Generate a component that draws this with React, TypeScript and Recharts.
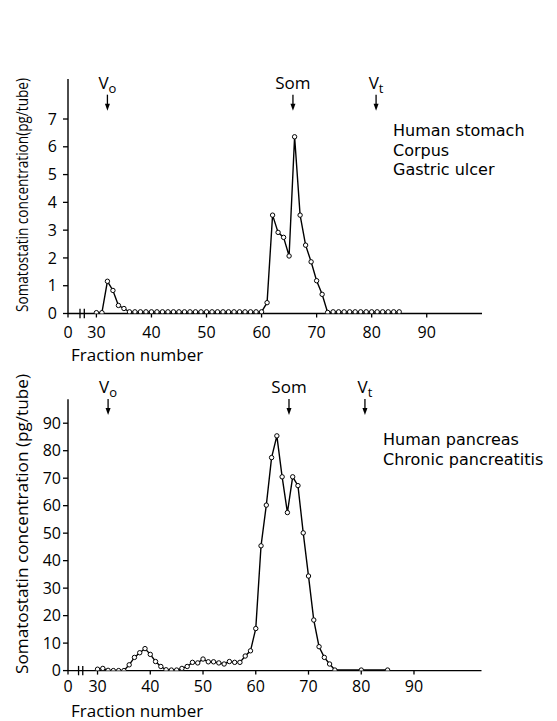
import { LineChart, Line, XAxis, YAxis, ReferenceLine, ReferenceDot } from "recharts";

const FONT = "'Open Sans', 'DejaVu Sans', sans-serif";
const NOTE_FONT = "'DejaVu Sans', sans-serif";

// fraction numbers shown under both x axes (0 sits before the axis break)
const tickFractions = [0, 30, 40, 50, 60, 70, 80, 90];

// Human stomach, corpus, gastric ulcer (pg/tube)
const stomachFractions = [
  30, 31, 32, 33, 34, 35, 36, 37, 38, 39, 40, 41, 42, 43, 44, 45, 46, 47, 48, 49,
  50, 51, 52, 53, 54, 55, 56, 57, 58, 59, 60, 61, 62, 63, 64, 65, 66, 67, 68, 69,
  70, 71, 72, 73, 74, 75, 76, 77, 78, 79, 80, 81, 82, 83, 84, 85,
];
const stomachValues = [
  0.03, 0.03, 1.16, 0.83, 0.29, 0.18, 0.06, 0.06, 0.06, 0.06, 0.06, 0.06, 0.06, 0.06, 0.06, 0.06, 0.06, 0.06, 0.06, 0.06,
  0.06, 0.06, 0.06, 0.06, 0.06, 0.06, 0.06, 0.06, 0.06, 0.06, 0.06, 0.39, 3.54, 2.92, 2.74, 2.07, 6.36, 3.54, 2.46, 1.86,
  1.18, 0.69, 0.04, 0.06, 0.06, 0.06, 0.06, 0.06, 0.06, 0.06, 0.06, 0.06, 0.06, 0.06, 0.06, 0.06,
];
const stomachTicks = [0, 1, 2, 3, 4, 5, 6, 7];
const stomachNotes = ["Human stomach", "Corpus", "Gastric ulcer"];

// Human pancreas, chronic pancreatitis (pg/tube)
const pancreasFractions = [
  30, 31, 32, 33, 34, 35, 36, 37, 38, 39, 40, 41, 42, 43, 44, 45, 46, 47, 48, 49,
  50, 51, 52, 53, 54, 55, 56, 57, 58, 59, 60, 61, 62, 63, 64, 65, 66, 67, 68, 69,
  70, 71, 72, 73, 74, 75, 80, 85,
];
const pancreasValues = [
  0.5, 0.8, 0.1, 0, 0, 0, 2.1, 4.8, 6.5, 8.0, 5.9, 3.3, 1.5, 0.3, 0.2, 0.2, 0.8, 1.5, 3.0, 2.8,
  4.2, 3.2, 3.2, 2.8, 2.4, 3.3, 3.0, 3.0, 5.3, 7.2, 15.3, 45.4, 60.2, 77.5, 85.4, 70.5, 57.5, 70.5, 67.3, 50.1,
  34.4, 18.4, 8.7, 4.8, 2.4, 0.2, 0.2, 0.2,
];
const pancreasTicks = [0, 10, 20, 30, 40, 50, 60, 70, 80, 90];
const pancreasNotes = ["Human pancreas", "Chronic pancreatitis"];

// void volume, somatostatin marker, total volume
const markerNames = [
  { main: "V", sub: "o" },
  { main: "Som", sub: "" },
  { main: "V", sub: "t" },
];
const stomachMarkerFractions = [32, 65.7, 80.8];
const pancreasMarkerFractions = [32, 66.3, 80.7];

interface PanelProps {
  top: number;
  height: number;
  fractions: number[];
  values: number[];
  yTicks: number[];
  yMax: number;
  xMax: number;
  breakAt: number; // fraction - breakAt = position right of the break
  markerFractions: number[];
  markerY: number;
  notes: string[];
  noteX: number;
  noteY: number;
  yLabel: string;
  yLabelCenter: number;
  yLabelLength: number;
  margin: { top: number; right: number; bottom: number; left: number };
  xTickMargin: number;
  yTickMargin: number;
  breakMarks: number[];
  breakHalf: number;
  titleY: number;
}

function Panel(p: PanelProps) {
  const toPos = (f: number) => (f === 0 ? 0 : f - p.breakAt);
  const data = p.fractions.map((f, i) => ({ x: toPos(f), v: p.values[i] }));
  const tickPos = tickFractions.map(toPos);

  return (
    <div style={{ position: "absolute", left: 0, top: p.top, width: 557, height: p.height }}>
      <LineChart width={557} height={p.height} data={data} margin={p.margin}>
        <XAxis
          type="number"
          dataKey="x"
          domain={[0, p.xMax]}
          ticks={tickPos}
          allowDataOverflow
          tickFormatter={(_v: number, i: number) => String(tickFractions[i])}
          tick={{ fill: "#000", fontSize: 16, fontFamily: FONT }}
          tickSize={4}
          tickMargin={p.xTickMargin}
          height={30}
          axisLine={{ stroke: "#000", strokeWidth: 1.4 }}
          tickLine={{ stroke: "#000", strokeWidth: 1.3 }}
          label={() => (
            <text x={71} y={p.titleY} fontSize={17} fontFamily={FONT} fill="#000">
              Fraction number
            </text>
          )}
        />
        <YAxis
          type="number"
          domain={[0, p.yMax]}
          ticks={p.yTicks}
          allowDataOverflow
          width={40}
          tick={{ fill: "#000", fontSize: 16, fontFamily: FONT }}
          tickSize={5}
          tickMargin={p.yTickMargin}
          axisLine={{ stroke: "#000", strokeWidth: 1.4 }}
          tickLine={{ stroke: "#000", strokeWidth: 1.3 }}
          label={() => (
            <text
              x={28}
              y={p.yLabelCenter}
              transform={`rotate(-90 28 ${p.yLabelCenter})`}
              textAnchor="middle"
              fontSize={16}
              fontFamily={FONT}
              fill="#000"
              textLength={p.yLabelLength}
              lengthAdjust="spacingAndGlyphs"
            >
              {p.yLabel}
            </text>
          )}
        />
        {p.breakMarks.map((b) => (
          <ReferenceLine
            key={b}
            segment={[
              { x: b, y: -p.breakHalf },
              { x: b, y: p.breakHalf },
            ]}
            ifOverflow="visible"
            stroke="#000"
            strokeWidth={1.3}
          />
        ))}
        {p.markerFractions.map((f, i) => (
          <ReferenceDot
            key={i}
            x={toPos(f)}
            y={p.markerY}
            ifOverflow="visible"
            shape={(s: any) => (
              <g>
                <line x1={s.cx} y1={s.cy - 16} x2={s.cx} y2={s.cy - 4} stroke="#000" strokeWidth={1.3} />
                <path d={`M${s.cx - 2.5},${s.cy - 7} L${s.cx},${s.cy} L${s.cx + 2.5},${s.cy - 7} Z`} fill="#000" />
                <text x={s.cx} y={s.cy - 22} textAnchor="middle" fontSize={17} fontFamily={FONT} fill="#000">
                  {markerNames[i].main}
                  {markerNames[i].sub ? (
                    <tspan fontSize={13} dy={4}>
                      {markerNames[i].sub}
                    </tspan>
                  ) : null}
                </text>
              </g>
            )}
          />
        ))}
        <Line
          type="linear"
          dataKey="v"
          stroke="#000"
          strokeWidth={1.4}
          dot={{ r: 2.2, fill: "#fff", stroke: "#000", strokeWidth: 1 }}
          isAnimationActive={false}
        />
        {p.notes.map((n, i) => (
          <text key={n} x={p.noteX} y={p.noteY + i * 19.5} fontSize={16} fontFamily={NOTE_FONT} fill="#000">
            {n}
          </text>
        ))}
      </LineChart>
    </div>
  );
}

export default function App() {
  return (
    <div style={{ position: "absolute", left: 0, top: 0, width: 557, height: 721, background: "#fff" }}>
      <Panel
        top={0}
        height={365}
        fractions={stomachFractions}
        values={stomachValues}
        yTicks={stomachTicks}
        yMax={8.44}
        xMax={75.2}
        breakAt={24.84}
        markerFractions={stomachMarkerFractions}
        markerY={7.3}
        notes={stomachNotes}
        noteX={393}
        noteY={136}
        yLabel="Somatostatin concentration(pg/tube)"
        yLabelCenter={195}
        yLabelLength={234}
        margin={{ top: 79, right: 75, bottom: 21.5, left: 28 }}
        xTickMargin={9}
        yTickMargin={6}
        breakMarks={[2.18, 2.96]}
        breakHalf={0.17}
        titleY={361}
      />
      <Panel
        top={365}
        height={356}
        fractions={pancreasFractions}
        values={pancreasValues}
        yTicks={pancreasTicks}
        yMax={98.7}
        xMax={78.4}
        breakAt={24.4}
        markerFractions={pancreasMarkerFractions}
        markerY={93}
        notes={pancreasNotes}
        noteX={383}
        noteY={80}
        yLabel="Somatostatin concentration (pg/tube)"
        yLabelCenter={159}
        yLabelLength={300}
        margin={{ top: 34.3, right: 75.5, bottom: 20.4, left: 28 }}
        xTickMargin={6}
        yTickMargin={2}
        breakMarks={[2.0, 2.8]}
        breakHalf={1.7}
        titleY={352}
      />
    </div>
  );
}
